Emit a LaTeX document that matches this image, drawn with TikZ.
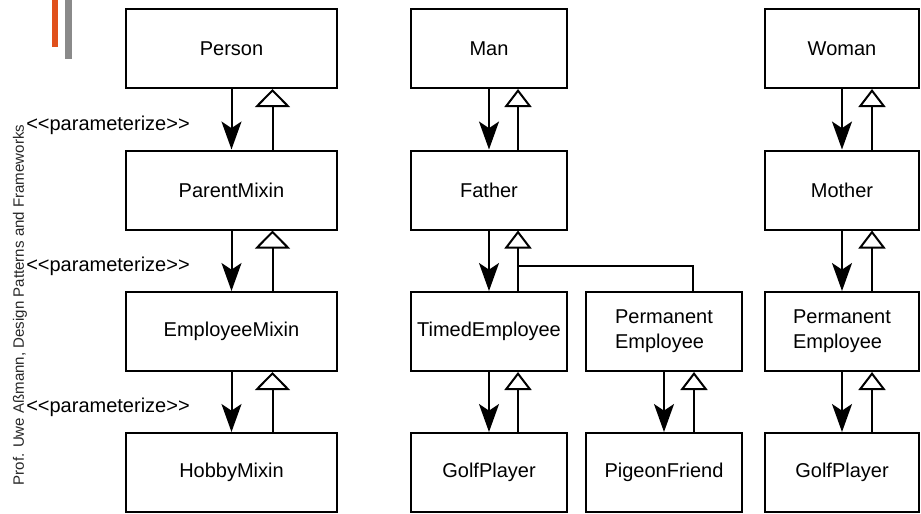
\documentclass[tikz,border=0pt]{standalone}
\usepackage{fontspec}
\setmainfont{Liberation Sans}
\usetikzlibrary{arrows.meta,calc}
\definecolor{barorange}{RGB}{224,80,28}
\definecolor{bargray}{RGB}{138,138,138}

\begin{document}
\begin{tikzpicture}[x=0.75pt,y=-0.75pt,
    cls/.style={draw, line width=1.5pt, minimum width=117pt, minimum height=59.25pt, inner sep=2pt, align=left, font=\fontsize{15}{18.5}\selectfont},
    widecls/.style={cls, minimum width=158.25pt},
    param/.style={line width=1.5pt, -{Stealth[length=21pt, width=15pt, inset=5pt]}},
    inherit/.style={line width=1.5pt, -{Triangle[open, length=13.5pt, width=20.25pt, fill=white]}},
    inheritwide/.style={line width=1.5pt, -{Triangle[open, length=13.5pt, width=26.25pt, fill=white]}},
    stereo/.style={anchor=west, inner sep=0pt, font=\fontsize{15}{18}\selectfont}]
    \useasboundingbox (0,0) rectangle (921,514);

    \fill[barorange] (52,0) rectangle (58,47);
    \fill[bargray] (65,0) rectangle (71.5,59);
    \node[rotate=90, inner sep=0pt, text=black!85, font=\fontsize{11.3}{14}\selectfont] (author) at (20,305) {Prof. Uwe Aßmann, Design Patterns and Frameworks};

    % mixin chain
    \node[widecls] (person) at (231.5,48.5) {Person};
    \node[widecls] (parent) at (231.5,190) {ParentMixin};
    \node[widecls] (employee) at (231.5,331.5) {EmployeeMixin};
    \node[widecls] (hobby) at (231.5,472.5) {HobbyMixin};

    \node[stereo] (par1) at (26,125) {<\kern0pt<parameterize>\kern0pt>};
    \node[stereo] (par2) at (26,266) {<\kern0pt<parameterize>\kern0pt>};
    \node[stereo] (par3) at (26,407) {<\kern0pt<parameterize>\kern0pt>};

    \draw[param] (person.south) -- (parent.north);
    \draw[param] (parent.south) -- (employee.north);
    \draw[param] (employee.south) -- (hobby.north);
    \draw[inheritwide] ($(parent.north)+(41,0)$) -- ($(person.south)+(41,0)$);
    \draw[inheritwide] ($(employee.north)+(41,0)$) -- ($(parent.south)+(41,0)$);
    \draw[inheritwide] ($(hobby.north)+(41,0)$) -- ($(employee.south)+(41,0)$);

    % man
    \node[cls] (man) at (489,48.5) {Man};
    \node[cls] (father) at (489,190) {Father};
    \node[cls] (timed) at (489,331.5) {TimedEmployee};
    \node[cls] (golf) at (489,472.5) {GolfPlayer};
    \node[cls] (perm) at (664,331.5) {Permanent\\Employee};
    \node[cls] (pigeon) at (664,472.5) {PigeonFriend};

    \draw[param] (man.south) -- (father.north);
    \draw[param] (father.south) -- (timed.north);
    \draw[param] (timed.south) -- (golf.north);
    \draw[param] (perm.south) -- (pigeon.north);
    \draw[inherit] ($(father.north)+(29,0)$) -- ($(man.south)+(29,0)$);
    \draw[inherit] ($(timed.north)+(29,0)$) -- ($(father.south)+(29,0)$);
    \draw[inherit] ($(golf.north)+(29,0)$) -- ($(timed.south)+(29,0)$);
    \draw[inherit] ($(pigeon.north)+(30,0)$) -- ($(perm.south)+(30,0)$);
    \coordinate (join) at ($(timed.north)+(29,-25)$);
    \draw[line width=1.5pt] ($(perm.north)+(29,0)$) |- (join);

    % woman
    \node[cls, minimum width=116pt] (woman) at (842,48.5) {Woman};
    \node[cls, minimum width=116pt] (mother) at (842,190) {Mother};
    \node[cls, minimum width=116pt] (permw) at (842,331.5) {Permanent\\Employee};
    \node[cls, minimum width=116pt] (golfw) at (842,472.5) {GolfPlayer};

    \draw[param] (woman.south) -- (mother.north);
    \draw[param] (mother.south) -- (permw.north);
    \draw[param] (permw.south) -- (golfw.north);
    \draw[inherit] ($(mother.north)+(30,0)$) -- ($(woman.south)+(30,0)$);
    \draw[inherit] ($(permw.north)+(30,0)$) -- ($(mother.south)+(30,0)$);
    \draw[inherit] ($(golfw.north)+(30,0)$) -- ($(permw.south)+(30,0)$);
\end{tikzpicture}
\end{document}
